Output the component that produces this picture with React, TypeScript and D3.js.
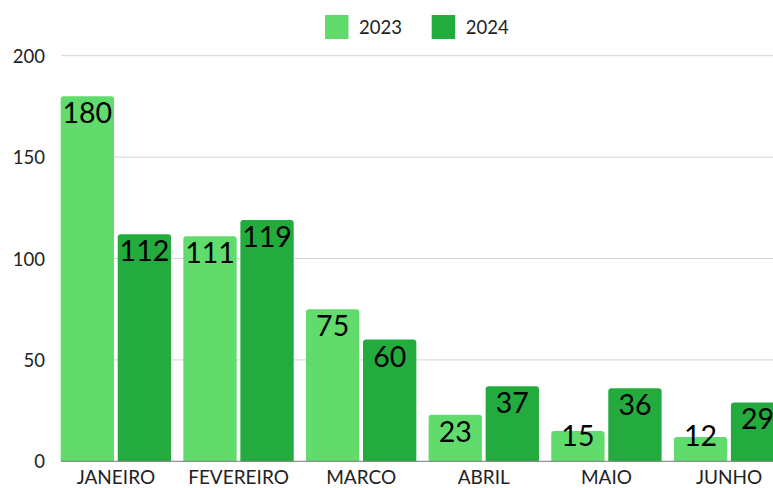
import React, { useEffect, useRef } from 'react';
import * as d3 from 'd3';

const months = ['JANEIRO', 'FEVEREIRO', 'MARCO', 'ABRIL', 'MAIO', 'JUNHO'];
const seriesNames = ['2023', '2024'];
const values2023 = [180, 111, 75, 23, 15, 12];
const values2024 = [112, 119, 60, 37, 36, 29];
const yTicks = [0, 50, 100, 150, 200];
const colors = ['#61db6b', '#23ac3d'];

const App = () => {
  const ref = useRef(null);

  useEffect(() => {
    document.body.style.margin = '0';
    const width = 773;
    const height = 488;
    const font = 'Lato, "Open Sans", sans-serif';

    const svg = d3.select(ref.current)
      .attr('width', width)
      .attr('height', height)
      .style('display', 'block')
      .style('font-family', font);
    svg.selectAll('*').remove();

    const y = d3.scaleLinear().domain([0, 200]).range([461.3, 55.7]);

    // groups: 110px of bars, step ~122.6, runs past the right edge
    const x = d3.scaleBand()
      .domain(months)
      .range([60.7, 60.7 + 5 * 122.65 + 110.3])
      .paddingInner(0.1)
      .paddingOuter(0);
    const xs = d3.scaleBand()
      .domain(seriesNames)
      .range([0, x.bandwidth()])
      .paddingInner(0.065);

    // grid
    svg.append('g')
      .selectAll('line')
      .data(yTicks.filter(t => t > 0))
      .enter().append('line')
        .attr('x1', 61)
        .attr('x2', width)
        .attr('y1', d => y(d))
        .attr('y2', d => y(d))
        .attr('stroke', '#d4d4d4')
        .attr('stroke-width', 1);

    svg.append('g')
      .selectAll('text')
      .data(yTicks)
      .enter().append('text')
        .attr('x', 45)
        .attr('y', d => y(d) + 7)
        .attr('text-anchor', 'end')
        .attr('font-size', 18.5)
        .attr('fill', '#222')
        .text(d => d);

    const rows = months.map((m, i) => ({
      month: m,
      vals: [values2023[i], values2024[i]],
    }));

    const groups = svg.append('g')
      .selectAll('g')
      .data(rows)
      .enter().append('g')
        .attr('transform', d => `translate(${x(d.month)},0)`);

    const bars = groups.selectAll('g')
      .data(d => d.vals.map((v, j) => ({ key: seriesNames[j], v, j })))
      .enter().append('g');

    const r = 3;
    bars.append('path')
      .attr('fill', d => colors[d.j])
      .attr('d', d => {
        const x0 = xs(d.key);
        const w = xs.bandwidth();
        const top = y(d.v);
        const bot = y(0);
        return `M${x0},${bot}V${top + r}Q${x0},${top} ${x0 + r},${top}H${x0 + w - r}Q${x0 + w},${top} ${x0 + w},${top + r}V${bot}Z`;
      });

    bars.append('text')
      .attr('x', d => xs(d.key) + xs.bandwidth() / 2)
      .attr('y', d => Math.min(y(d.v) + 27, 446))
      .attr('text-anchor', 'middle')
      .attr('font-size', 28.5)
      .attr('fill', '#000')
      .text(d => d.v);

    // baseline
    svg.append('line')
      .attr('x1', 61)
      .attr('x2', width)
      .attr('y1', y(0))
      .attr('y2', y(0))
      .attr('stroke', '#777')
      .attr('stroke-width', 1);

    svg.append('g')
      .selectAll('text')
      .data(months)
      .enter().append('text')
        .attr('x', d => x(d) + x.bandwidth() / 2)
        .attr('y', 484)
        .attr('text-anchor', 'middle')
        .attr('font-size', 19)
        .attr('fill', '#222')
        .text(d => d);

    // legend
    const legend = svg.append('g')
      .selectAll('g')
      .data(seriesNames)
      .enter().append('g')
        .attr('transform', (d, i) => `translate(${325 + i * 106.7},15)`);

    legend.append('rect')
      .attr('width', 23.5)
      .attr('height', 24)
      .attr('fill', (d, i) => colors[i]);

    legend.append('text')
      .attr('x', 34)
      .attr('y', 18.5)
      .attr('font-size', 18.5)
      .attr('fill', '#222')
      .text(d => d);
  }, []);

  return <svg ref={ref} />;
};

export default App;
